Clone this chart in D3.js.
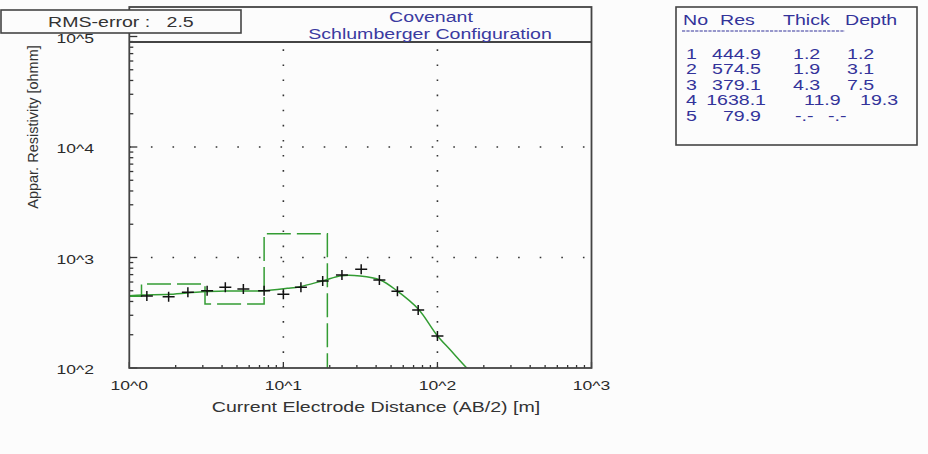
<!DOCTYPE html>
<html lang="en">
<head>
  <meta charset="UTF-8">
  <title>Covenant - Schlumberger Configuration</title>
  <script src="https://d3js.org/d3.v7.min.js"></script>
  <style>
    body { margin: 0; background-color: #fcfcfc; }
    svg { display: block; font-family: "Liberation Sans", Arial, sans-serif; }
  </style>
</head>
<body>
  <svg id="chart" width="928" height="454"></svg>

  <script>
    // measured apparent resistivity (AB/2 in m, rho in ohmm)
    const abHalf = [1.3, 1.8, 2.4, 3.2, 4.2, 5.5, 7.5, 10, 13, 18, 24, 32, 42, 55, 75, 100];
    const measured = [448, 442, 484, 501, 537, 519, 501, 465, 537, 613, 695, 782, 626, 494, 335, 195];

    // fitted model response curve
    const curveAb = [1.0, 1.23, 1.84, 3.0, 4.5, 7.4, 10.6, 12.8, 18.1, 23.9, 31.5, 42.5, 54.5, 75.3, 99, 121, 155, 175];
    const curveRho = [451, 458, 464, 490, 498, 501, 526, 544, 617, 684, 680, 626, 501, 340, 199, 146, 100, 85];

    // layered model
    const layerNo = [1, 2, 3, 4, 5];
    const layerRes = [444.9, 574.5, 379.1, 1638.1, 79.9];
    const layerThick = [1.2, 1.9, 4.3, 11.9, null];
    const layerDepth = [1.2, 3.1, 7.5, 19.3, null];

    const xTicks = [1, 10, 100, 1000];
    const xTickLabels = ["10^0", "10^1", "10^2", "10^3"];
    const yTicks = [100, 1000, 10000, 100000];
    const yTickLabels = ["10^2", "10^3", "10^4", "10^5"];

    const rmsError = 2.5;

    const svg = d3.select("#chart");
    const plot = { left: 129.3, right: 591.5, top: 7, bottom: 368 };
    const SX = 1.35; // the program's screen font runs wide

    const x = d3.scaleLog().domain([1, 1000]).range([plot.left, plot.right]);
    const y = d3.scaleLog().domain([100, 100000]).range([plot.bottom, 36.5]);

    // horizontal label, widened about its anchor point
    function hText(parent, tx, ty, str, opts = {}) {
      return parent.append("text")
        .attr("transform", `translate(${tx},${ty}) scale(${opts.sx ?? SX},1)`)
        .attr("text-anchor", opts.anchor || "start")
        .attr("font-size", opts.size || 14.5)
        .attr("fill", opts.fill || "#2a2a2a")
        .attr("xml:space", "preserve")
        .text(str);
    }

    svg.append("defs").append("clipPath").attr("id", "plotClip")
      .append("rect")
      .attr("x", plot.left).attr("y", 42)
      .attr("width", plot.right - plot.left).attr("height", plot.bottom - 42);

    // dotted grid at the inner decades
    svg.append("g").selectAll("line")
      .data(xTicks.slice(1, -1))
      .join("line")
      .attr("x1", d => x(d)).attr("x2", d => x(d))
      .attr("y1", plot.bottom).attr("y2", 42)
      .attr("stroke", "#333").attr("stroke-width", 1.6)
      .attr("stroke-dasharray", "1.6,13.5");

    svg.append("g").selectAll("line")
      .data(yTicks.slice(1, -1))
      .join("line")
      .attr("x1", plot.left).attr("x2", plot.right)
      .attr("y1", d => y(d)).attr("y2", d => y(d))
      .attr("stroke", "#333").attr("stroke-width", 1.6)
      .attr("stroke-dasharray", "1.6,20");

    // minor + major ticks, pointing into the plot
    const minorX = [];
    xTicks.slice(0, -1).forEach(t => { for (let k = 2; k <= 9; k++) minorX.push(t * k); });
    const minorY = [];
    yTicks.slice(0, -1).forEach(t => { for (let k = 2; k <= 9; k++) minorY.push(t * k); });

    const ticks = svg.append("g").attr("stroke", "#333").attr("stroke-width", 1.3);
    ticks.selectAll(".mx").data(minorX).join("line").attr("class", "mx")
      .attr("x1", d => x(d)).attr("x2", d => x(d))
      .attr("y1", plot.bottom).attr("y2", plot.bottom - 3);
    ticks.selectAll(".Mx").data(xTicks).join("line").attr("class", "Mx")
      .attr("x1", d => x(d)).attr("x2", d => x(d))
      .attr("y1", plot.bottom).attr("y2", plot.bottom - 6);
    ticks.selectAll(".my").data(minorY).join("line").attr("class", "my")
      .attr("x1", plot.left).attr("x2", plot.left + 4)
      .attr("y1", d => y(d)).attr("y2", d => y(d));
    ticks.selectAll(".My").data(yTicks).join("line").attr("class", "My")
      .attr("x1", plot.left).attr("x2", plot.left + 8)
      .attr("y1", d => y(d)).attr("y2", d => y(d));

    // layered model as a stepped dashed line
    const stepPts = [];
    let layerTop = 1;
    layerRes.forEach((r, i) => {
      const layerBottom = layerDepth[i] ?? 1000;
      stepPts.push([layerTop, r], [layerBottom, r]);
      layerTop = layerBottom;
    });
    const lineXY = d3.line().x(d => x(d[0])).y(d => y(d[1]));

    const data = svg.append("g").attr("clip-path", "url(#plotClip)");
    data.append("path")
      .attr("d", lineXY(stepPts))
      .attr("fill", "none")
      .attr("stroke", "#339c33").attr("stroke-width", 1.5)
      .attr("stroke-dasharray", "24,6");

    data.append("path")
      .attr("d", d3.line().x(d => x(d[0])).y(d => y(d[1])).curve(d3.curveCatmullRom.alpha(0.5))(d3.zip(curveAb, curveRho)))
      .attr("fill", "none")
      .attr("stroke", "#339c33").attr("stroke-width", 1.5);

    // measured points as crosses
    data.selectAll(".pt").data(d3.zip(abHalf, measured)).join("path")
      .attr("class", "pt")
      .attr("d", d => `M${x(d[0]) - 6},${y(d[1])}h12M${x(d[0])},${y(d[1]) - 5}v10`)
      .attr("stroke", "#111").attr("stroke-width", 1.5);

    // tick labels
    const labels = svg.append("g");
    xTicks.forEach((t, i) => hText(labels, x(t), 390, xTickLabels[i], { anchor: "middle", size: 13.5, sx: 1.3 }));
    yTicks.forEach((t, i) => hText(labels, 94, y(t) + 6, yTickLabels[i], { anchor: "end", size: 13.5, sx: 1.3 }));

    hText(svg, 376, 412, "Current Electrode Distance (AB/2) [m]", { anchor: "middle", fill: "#333" });
    svg.append("text")
      .attr("transform", "translate(38,127) rotate(-90)")
      .attr("text-anchor", "middle").attr("font-size", 14.5).attr("fill", "#333")
      .text("Appar. Resistivity [ohmm]");

    // frame and title strip
    svg.append("rect")
      .attr("x", plot.left).attr("y", plot.top)
      .attr("width", plot.right - plot.left).attr("height", plot.bottom - plot.top)
      .attr("fill", "none").attr("stroke", "#444").attr("stroke-width", 1.8);
    svg.append("line")
      .attr("x1", plot.left).attr("x2", plot.right).attr("y1", 42).attr("y2", 42)
      .attr("stroke", "#444").attr("stroke-width", 1.8);
    hText(svg, 431, 22, "Covenant", { anchor: "middle", fill: "#3a3aa0" });
    hText(svg, 430, 39, "Schlumberger Configuration", { anchor: "middle", fill: "#3a3aa0" });

    // RMS error box
    svg.append("rect")
      .attr("x", 1).attr("y", 10).attr("width", 240).attr("height", 23)
      .attr("fill", "#fcfcfc").attr("stroke", "#444").attr("stroke-width", 1.6);
    hText(svg, 48, 27, `RMS-error :   ${rmsError}`, { fill: "#333" });

    // layer table
    svg.append("rect")
      .attr("x", 676).attr("y", 7).attr("width", 241).attr("height", 138)
      .attr("fill", "none").attr("stroke", "#444").attr("stroke-width", 1.6);
    const blue = "#33339a";
    const table = svg.append("g");
    [["No", 683], ["Res", 720], ["Thick", 783], ["Depth", 845]]
      .forEach(([h, hx]) => hText(table, hx, 25, h, { fill: blue }));
    table.append("line")
      .attr("x1", 682).attr("x2", 845).attr("y1", 31).attr("y2", 31)
      .attr("stroke", blue).attr("stroke-width", 1)
      .attr("stroke-dasharray", "3.2,1.2");

    const fmt = v => v == null ? "-.-" : d3.format(".1f")(v);
    layerNo.forEach((n, i) => {
      const ty = 58.5 + i * 15.6;
      hText(table, 686, ty, n, { fill: blue });
      hText(table, layerRes[i] >= 1000 ? 766 : 761, ty, fmt(layerRes[i]), { fill: blue, anchor: "end" });
      hText(table, layerThick[i] == null ? 795 : (layerThick[i] >= 10 ? 804 : 793), ty, fmt(layerThick[i]), { fill: blue });
      hText(table, layerDepth[i] == null ? 828 : (layerDepth[i] >= 10 ? 860 : 847), ty, fmt(layerDepth[i]), { fill: blue });
    });
  </script>
</body>
</html>
